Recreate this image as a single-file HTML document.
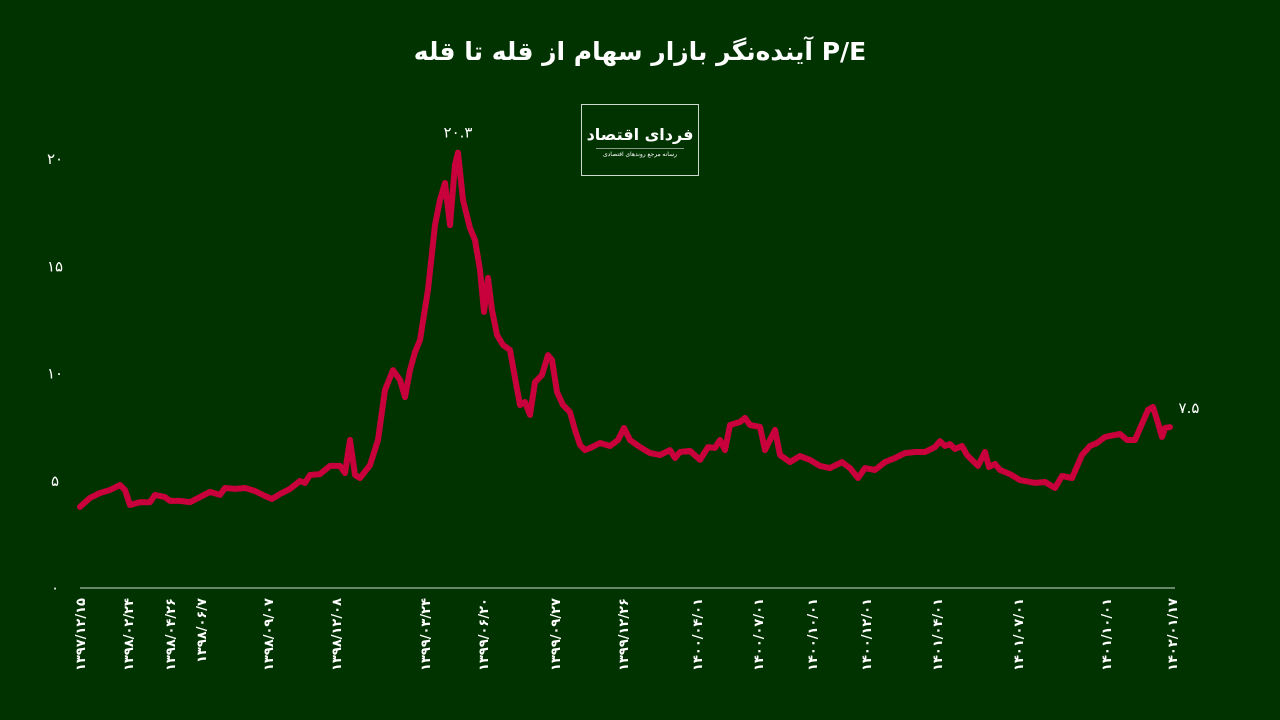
<!DOCTYPE html>
<html><head><meta charset="utf-8">
<style>
body{margin:0;background:#003300;width:1280px;height:720px;overflow:hidden;font-family:"Liberation Sans","Noto Sans CJK SC",sans-serif;}
#title{position:absolute;left:0;top:37px;width:1280px;text-align:center;color:#fff;font-weight:bold;font-size:25px;font-family:"DejaVu Sans",sans-serif;}
#logo{position:absolute;left:581px;top:104px;width:116px;height:70px;border:1px solid #cfd8cf;color:#fff;text-align:center;overflow:hidden;}
</style></head><body>
<div id="title" dir="rtl">P/E آینده‌نگر بازار سهام از قله تا قله</div>
<div id="logo" dir="rtl"><div style="font-size:16px;font-weight:bold;margin-top:20px;white-space:nowrap;font-family:'DejaVu Sans',sans-serif">فردای اقتصاد</div><div style="font-size:6px;margin-top:4px;white-space:nowrap;border-top:1px solid #8a9a8a;margin-left:14px;margin-right:14px;padding-top:2px">رسانه مرجع روندهای اقتصادی</div></div>
<svg id="chart" width="1280" height="720" style="position:absolute;left:0;top:0"></svg>
<script>
const dayIdx=[0,10,20,30,40,45,50,60,70,75,85,90,100,110,120,130,140,145,155,165,175,185,192,200,210,220,225,230,240,250,260,265,270,275,280,290,298,305,313,320,325,330,335,340,348,355,360,365,370,375,378,383,390,395,400,404,408,412,417,423,430,435,440,445,450,455,462,468,472,477,483,490,495,500,505,512,520,530,538,544,550,560,570,580,590,595,600,610,620,628,635,640,645,650,660,665,670,680,685,690,695,700,710,720,730,740,750,762,770,778,785,795,805,815,825,835,845,855,860,865,870,875,882,887,890,898,905,909,915,920,930,940,955,965,975,982,992,1002,1010,1017,1025,1030,1040,1047,1055,1068,1073,1078,1082,1085,1090,1093];
const peValues=[3.78,4.2,4.43,4.57,4.8,4.57,3.87,4.0,4.0,4.34,4.24,4.06,4.06,4.0,4.24,4.48,4.34,4.66,4.62,4.66,4.52,4.29,4.15,4.38,4.62,4.99,4.9,5.27,5.31,5.69,5.69,5.36,6.9,5.27,5.13,5.73,6.9,9.23,10.16,9.7,8.9,10.16,11.0,11.56,13.9,16.92,18.09,18.88,16.92,19.74,20.3,18.09,16.78,16.22,14.83,12.87,14.45,12.96,11.8,11.33,11.1,9.79,8.53,8.67,8.07,9.6,9.93,10.86,10.63,9.14,8.53,8.2,7.37,6.67,6.43,6.57,6.76,6.62,6.9,7.46,6.9,6.57,6.29,6.2,6.43,6.06,6.34,6.39,5.97,6.57,6.53,6.9,6.43,7.6,7.74,7.93,7.6,7.51,6.43,6.9,7.37,6.2,5.87,6.15,5.97,5.69,5.59,5.87,5.59,5.13,5.59,5.5,5.87,6.06,6.29,6.34,6.34,6.57,6.85,6.62,6.71,6.48,6.62,6.2,6.06,5.69,6.34,5.64,5.78,5.5,5.31,5.03,4.9,4.94,4.66,5.22,5.13,6.2,6.62,6.76,7.04,7.09,7.18,6.9,6.9,8.3,8.44,7.69,7.04,7.46,7.5];
const yTicks=[0,5,10,15,20];
const yTickLabels=["۰","۵","۱۰","۱۵","۲۰"];
const xTickDays=[0,48,90,121,188,256,345,403,475,543,617,678,732,786,857,938,1026,1092];
const xTickLabels=["۱۳۹۷/۱۲/۱۵","۱۳۹۸/۰۲/۲۴","۱۳۹۸/۰۴/۲۶","۱۳۹۸/۰۶/۷","۱۳۹۸/۰۹/۰۷","۱۳۹۸/۱۲/۰۸","۱۳۹۹/۰۳/۲۴","۱۳۹۹/۰۶/۲۰","۱۳۹۹/۰۹/۲۷","۱۳۹۹/۱۲/۲۶","۱۴۰۰/۰۴/۰۱","۱۴۰۰/۰۷/۰۱","۱۴۰۰/۱۰/۰۱","۱۴۰۰/۱۲/۰۱","۱۴۰۱/۰۴/۰۱","۱۴۰۱/۰۷/۰۱","۱۴۰۱/۱۰/۰۱","۱۴۰۲/۰۱/۱۷"];
const X0=80,X1=1173,Y0=588,PX=21.45,DMAX=1093;
const xs=d=>X0+(X1-X0)*d/DMAX;
const ys=v=>Y0-v*PX;
const svg=document.getElementById('chart');
const NS='http://www.w3.org/2000/svg';
function mk(t,a){const e=document.createElementNS(NS,t);for(const k in a)e.setAttribute(k,a[k]);svg.appendChild(e);return e;}
const ax=mk('line',{x1:X0,x2:1175,y1:Y0,y2:Y0,stroke:'#cfd8cf','stroke-width':1});


yTicks.forEach((v,i)=>{const t=mk('text',{x:55,y:ys(v)+5,fill:'#fff','font-size':15,'text-anchor':'middle','font-family':'DejaVu Sans,sans-serif'});t.textContent=yTickLabels[i];

});
xTickDays.forEach((d,i)=>{const x=xs(d);const t=mk('text',{x:0,y:0,fill:'#fff','font-size':13,'font-weight':'bold','text-anchor':'end','font-family':'DejaVu Sans,sans-serif',transform:`translate(${x+5},598) rotate(-90)`});t.textContent=xTickLabels[i];

});
let dstr='';dayIdx.forEach((d,i)=>{dstr+=(i?'L':'M')+xs(d).toFixed(1)+','+ys(peValues[i]).toFixed(1);});
const p=mk('path',{d:dstr,fill:'none',stroke:'#c8003c','stroke-width':6,'stroke-linejoin':'round','stroke-linecap':'round'});


let mi=0;peValues.forEach((v,i)=>{if(v>peValues[mi])mi=i;});
const pk=mk('text',{x:xs(dayIdx[mi]),y:ys(peValues[mi])-15,fill:'#fff','font-size':15,'text-anchor':'middle','font-family':'DejaVu Sans,sans-serif'});
pk.textContent='۲۰.۳';


const li=peValues.length-1;
const lt=mk('text',{x:xs(dayIdx[li])+19,y:ys(peValues[li])-14,fill:'#fff','font-size':15,'text-anchor':'middle','font-family':'DejaVu Sans,sans-serif'});
lt.textContent='۷.۵';


</script>
</body></html>
